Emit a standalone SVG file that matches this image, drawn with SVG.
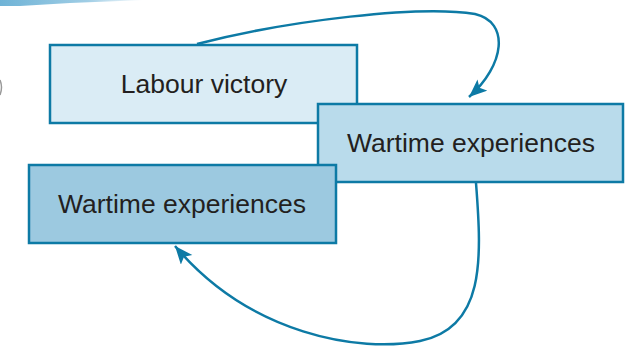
<svg xmlns="http://www.w3.org/2000/svg" width="636" height="346" viewBox="0 0 636 346">
<style>
.box{stroke:#0d7aa5;stroke-width:2.5}
.lbl{font-family:"Liberation Sans",Arial,sans-serif;font-size:26.5px;fill:#231f20;text-anchor:middle}
.conn{fill:none;stroke:#0d7aa5;stroke-width:2.5}
</style>
<defs>
<marker id="ah" markerUnits="userSpaceOnUse" markerWidth="22" markerHeight="18" refX="18" refY="7.5" orient="auto">
<path d="M0,0 L18,7.5 L0,15 L4,7.5 z" fill="#0d7aa5"/>
</marker>
<linearGradient id="streak" x1="0" y1="0" x2="1" y2="0">
<stop offset="0" stop-color="#6fb3d6"/>
<stop offset="0.6" stop-color="#9fcde5"/>
<stop offset="1" stop-color="#9fcde5" stop-opacity="0"/>
</linearGradient>
</defs>
<path d="M0,0 L145,0 L70,3 L20,6 L0,6 z" fill="url(#streak)"/>
<path d="M0,80 Q3,87 0,95" fill="none" stroke="#999" stroke-width="1.5"/>
<g id="labour-victory">
<rect class="box" x="50" y="45" width="307" height="78" fill="#daecf5"/>
<text class="lbl" x="204" y="93">Labour victory</text>
</g>
<g id="wartime-experiences-1">
<rect class="box" x="318" y="104" width="305" height="78" fill="#b9dbeb"/>
<text class="lbl" x="471" y="152">Wartime experiences</text>
</g>
<g id="wartime-experiences-2">
<rect class="box" x="29" y="165" width="307" height="78" fill="#9cc9e0"/>
<text class="lbl" x="182" y="213">Wartime experiences</text>
</g>
<g id="connectors">
<path class="conn" marker-end="url(#ah)" d="M197,44 C290,20 420,5 475,14 C510,22 505,65 469,97"/>
<path class="conn" marker-end="url(#ah)" d="M476,183 C482,260 485,328 420,341 C360,353 250,335 175,246"/>
</g>
</svg>
